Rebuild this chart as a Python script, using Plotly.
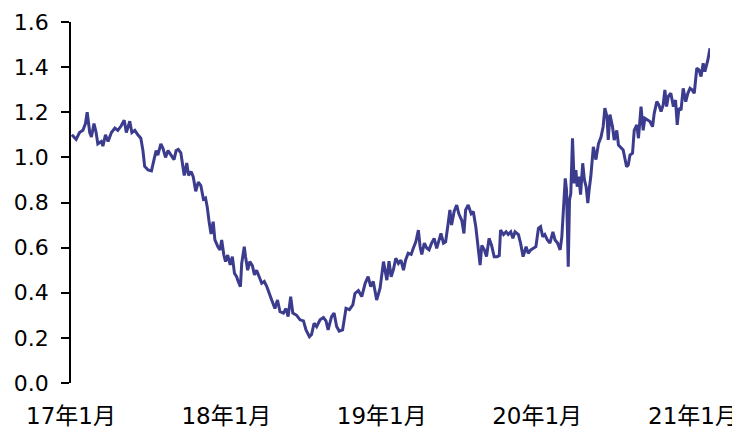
import pandas as pd
import plotly.graph_objects as go

# Day offsets from 2017-01-01 and values
days_2017 = [2, 12, 20, 28, 34, 38, 44, 48, 54, 59, 63, 71, 75, 81, 87, 95, 103, 110, 118, 125,
             130, 138, 143, 150, 157, 164, 169, 173, 181, 189, 195, 200, 204, 211, 216, 222, 228, 234, 242, 247]
vals_2017 = [1.10, 1.08, 1.11, 1.12, 1.15, 1.20, 1.11, 1.09, 1.15, 1.11, 1.06, 1.07, 1.05, 1.10, 1.07, 1.11, 1.13, 1.12, 1.14, 1.165,
             1.11, 1.16, 1.11, 1.12, 1.10, 1.085, 1.03, 0.96, 0.944, 0.94, 0.99, 1.03, 1.01, 1.06, 1.04, 1.00, 1.03, 1.01, 0.99, 1.03]

days_late17 = [252, 258, 261, 266, 272, 276, 282, 287, 293, 299, 305, 311, 316, 320, 324, 329, 334, 338, 345, 350,
               354, 359, 363, 368, 374, 379, 384, 389, 393, 398, 401, 407, 410, 415, 420, 426, 431, 436, 442, 448, 454, 460]
vals_late17 = [1.035, 1.02, 0.975, 0.92, 0.975, 0.92, 0.937, 0.915, 0.85, 0.89, 0.875, 0.815, 0.82, 0.78, 0.72, 0.66, 0.715, 0.634, 0.604, 0.59,
               0.634, 0.567, 0.538, 0.567, 0.523, 0.56, 0.486, 0.471, 0.449, 0.427, 0.53, 0.604, 0.56, 0.50, 0.538, 0.52, 0.479, 0.50, 0.471, 0.442, 0.45, 0.427]

days_2018 = [471, 479, 485, 491, 499, 505, 510, 516, 521, 530, 538, 546, 552, 560, 565, 571, 577, 585, 593, 599,
             604, 612, 618, 624, 630, 638, 646, 654, 662, 667, 675, 683, 691, 698, 704, 710, 718, 726, 734]
vals_2018 = [0.37, 0.33, 0.368, 0.316, 0.31, 0.33, 0.294, 0.383, 0.31, 0.30, 0.28, 0.275, 0.235, 0.205, 0.215, 0.265, 0.25, 0.28, 0.29, 0.275,
             0.235, 0.294, 0.31, 0.25, 0.23, 0.235, 0.331, 0.325, 0.346, 0.397, 0.41, 0.383, 0.442, 0.471, 0.427, 0.45, 0.368, 0.42, 0.538]

days_2019 = [742, 747, 752, 757, 763, 769, 775, 781, 786, 792, 799, 804, 810, 816, 820, 824, 830, 836, 841, 847,
             853, 859, 864, 869, 875, 880, 886, 890, 894, 900, 906, 911, 918, 923, 927, 933, 940, 945, 951, 955,
             961, 965, 971, 976, 982, 988]
vals_2019 = [0.456, 0.54, 0.471, 0.50, 0.553, 0.53, 0.545, 0.50, 0.545, 0.575, 0.57, 0.597, 0.626, 0.678, 0.604, 0.57, 0.62, 0.597, 0.59, 0.62,
             0.641, 0.597, 0.634, 0.663, 0.62, 0.626, 0.708, 0.767, 0.70, 0.76, 0.789, 0.75, 0.72, 0.663, 0.767, 0.789, 0.75, 0.76, 0.69, 0.62,
             0.523, 0.61, 0.59, 0.56, 0.641, 0.61]

days_2020a = [994, 1001, 1006, 1009, 1016, 1022, 1027, 1033, 1038, 1043, 1051, 1056, 1062, 1069, 1074, 1080, 1086, 1092, 1098, 1103,
              1108, 1113, 1119, 1125, 1132, 1137, 1143, 1149, 1153, 1156, 1161, 1164, 1168, 1171, 1174, 1178, 1182, 1186, 1189, 1193,
              1197, 1202, 1206, 1210, 1214, 1217, 1221, 1227, 1233, 1239, 1245]
vals_2020a = [0.56, 0.56, 0.565, 0.678, 0.658, 0.67, 0.658, 0.67, 0.641, 0.67, 0.658, 0.62, 0.56, 0.604, 0.575, 0.59, 0.597, 0.604, 0.686, 0.693,
              0.649, 0.658, 0.634, 0.62, 0.67, 0.634, 0.62, 0.59, 0.649, 0.752, 0.907, 0.855, 0.515, 0.811, 0.84, 1.085, 0.885, 0.944, 0.87, 0.915,
              0.835, 0.974, 0.90, 0.87, 0.797, 0.855, 0.915, 1.047, 0.99, 1.06, 1.09]

days_2020b = [1250, 1254, 1259, 1262, 1266, 1272, 1276, 1282, 1286, 1292, 1297, 1301, 1305, 1309, 1313, 1319, 1323, 1329, 1333, 1339,
              1344, 1348, 1355, 1360, 1366, 1370, 1376, 1381, 1386, 1391, 1395, 1399, 1403, 1409, 1415, 1420, 1424, 1428, 1433, 1438,
              1444, 1449, 1454, 1459, 1464, 1470, 1475, 1480, 1485, 1489, 1496, 1501]
vals_2020b = [1.136, 1.218, 1.18, 1.077, 1.19, 1.136, 1.077, 1.12, 1.055, 1.04, 1.033, 0.996, 0.959, 0.966, 1.01, 1.018, 1.12, 1.144, 1.085, 1.225,
              1.12, 1.173, 1.166, 1.159, 1.136, 1.195, 1.247, 1.232, 1.203, 1.232, 1.299, 1.225, 1.27, 1.284, 1.225, 1.254, 1.144, 1.218, 1.21, 1.306,
              1.247, 1.284, 1.306, 1.299, 1.284, 1.395, 1.388, 1.358, 1.417, 1.38, 1.432, 1.484]

tick_dates = ["2017-01-01", "2018-01-01", "2019-01-01", "2020-01-01", "2021-01-01"]
tick_labels = ["17年1月", "18年1月", "19年1月", "20年1月", "21年1月"]
y_ticks = [0.0, 0.2, 0.4, 0.6, 0.8, 1.0, 1.2, 1.4, 1.6]

days = days_2017 + days_late17 + days_2018 + days_2019 + days_2020a + days_2020b
vals = vals_2017 + vals_late17 + vals_2018 + vals_2019 + vals_2020a + vals_2020b
assert len(days) == len(vals)

base = pd.Timestamp("2017-01-01")
dates = [base + pd.Timedelta(days=d) for d in days]

fig = go.Figure(go.Scatter(x=dates, y=vals, mode="lines",
                           line=dict(color="#3C3C8E", width=3)))

font_family = "DejaVu Sans, Noto Sans CJK SC, sans-serif"
# page body has an 8px default margin, so the figure is 8px smaller
fig.update_layout(
    width=732, height=423,
    margin=dict(l=63, r=30, t=14, b=48),
    plot_bgcolor="white", paper_bgcolor="white",
    showlegend=False,
    font=dict(family=font_family, color="#000000"),
)
fig.update_xaxes(
    range=[base, dates[-1]], automargin=False,
    tickvals=tick_dates, ticktext=tick_labels,
    showgrid=False, zeroline=False, showline=False, ticks="",
    tickfont=dict(size=23, family=font_family, color="#000000"),
    ticklabelstandoff=17,
)
fig.update_yaxes(
    range=[0, 1.6], tickvals=y_ticks, tickformat=".1f", automargin=False,
    showgrid=False, zeroline=False,
    showline=True, linecolor="#000000", linewidth=1.5,
    ticks="outside", ticklen=8, tickwidth=1.5, tickcolor="#000000",
    tickfont=dict(size=22, family=font_family, color="#000000"),
    ticklabelstandoff=8,
)
fig.write_html("out.html")
